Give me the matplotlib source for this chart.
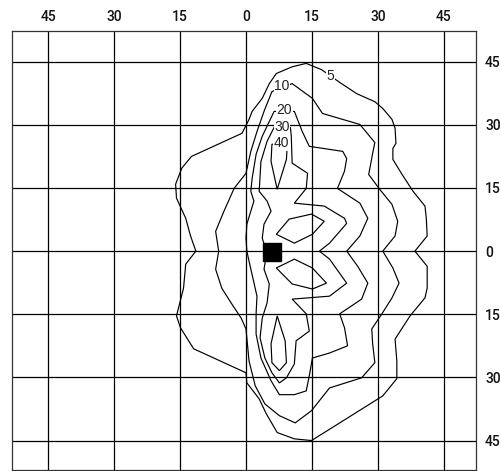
import matplotlib
matplotlib.use("Agg")
import matplotlib.pyplot as plt

plt.rcParams['font.family'] = ['Liberation Sans', 'DejaVu Sans']

# ---------------- data ----------------
grid_ticks = [-45, -30, -15, 0, 15, 30, 45]
grid_tick_labels = ["45", "30", "15", "0", "15", "30", "45"]

# isopter 5 (outermost)
iso5_x = [13.7, 17.2, 21.3, 25.2, 29.3, 31.1, 33.2, 33.9, 34.1, 33.4, 33.4, 35.5, 38.0, 40.7, 41.0,
          41.2, 38.4, 41.2, 41.2, 40.7, 37.3, 33.9, 34.3, 34.3, 31.1, 14.9, 11.0, 7.1, 4.6, 3.0,
          0.2, 0.0, -11.9, -14.9, -15.8, -14.2, -13.7, -11.4, -12.6, -13.7, -15.8, -16.0, -14.6,
          -12.4, -0.9, 0.7, 1.4, 3.7, 5.3, 6.9, 10.5]
iso5_y = [44.6, 43.1, 40.1, 37.4, 35.5, 33.9, 31.3, 29.2, 25.6, 24.4, 21.8, 18.2, 14.2, 10.7, 7.8,
          3.6, 0.0, -3.6, -8.8, -11.1, -15.4, -20.9, -26.1, -30.3, -34.4, -45.0, -44.6, -43.1, -38.6,
          -35.1, -31.3, -28.9, -23.2, -18.2, -15.4, -8.8, -3.1, 0.0, 3.6, 7.8, 12.6, 15.9, 19.7,
          22.5, 28.0, 31.3, 33.2, 36.3, 39.8, 42.2, 43.8]

# isopter 10
iso10_x = [10.5, 15.1, 17.4, 25.9, 29.3, 28.8, 27.9, 30.4, 33.2, 34.5, 33.9, 31.1, 33.4, 34.8, 33.2,
           30.9, 28.6, 28.8, 29.3, 26.3, 19.0, 14.9, 11.2, 7.6, 4.3, 2.1, 0.7, 0.0, -1.1, -3.2,
           -5.5, -6.9, -6.2, -6.9, -5.0, -2.7, 0.0, 1.1, 2.5, 4.1, 5.9]
iso10_y = [39.8, 36.3, 32.7, 30.1, 25.8, 23.2, 18.2, 14.7, 11.1, 7.1, 3.6, 0.0, -4.0, -7.6, -11.1,
           -14.9, -18.5, -22.0, -26.5, -30.1, -32.5, -37.9, -40.8, -39.1, -36.3, -32.0, -26.1, -18.5,
           -15.9, -12.6, -8.8, -4.3, 0.0, 4.7, 9.5, 14.9, 18.5, 23.7, 28.4, 33.2, 37.9]

# isopter 20
iso20_x = [11.0, 12.8, 14.4, 22.0, 22.9, 22.4, 20.8, 25.9, 27.7, 25.9, 22.9, 25.4, 27.7, 26.3, 21.3,
           22.4, 23.1, 19.0, 15.1, 14.4, 13.7, 11.0, 7.6, 5.7, 3.4, 2.3, 2.3, 2.5, 0.7, 0.2,
           0.0, 0.2, 1.8, 1.1, 1.4, 2.3, 3.7, 6.4]
iso20_y = [33.2, 28.4, 24.9, 23.7, 22.0, 19.0, 14.9, 11.4, 7.8, 3.6, 0.0, -3.6, -7.6, -11.4, -14.9,
           -18.2, -22.5, -24.2, -25.4, -29.6, -33.2, -34.1, -34.1, -30.8, -25.4, -19.7, -14.9, -10.7,
           -2.4, 0.0, 3.1, 6.4, 11.9, 14.2, 17.3, 23.0, 27.3, 33.2]

# isopter 30
iso30_x = [10.1, 10.3, 10.5, 14.0, 13.7, 11.0, 17.8, 22.4, 22.9, 19.0, 16.7, 19.0, 22.9, 19.0, 10.5,
           13.7, 14.4, 11.4, 11.0, 9.2, 7.6, 5.9, 4.3, 3.2, 3.7, 4.8, 5.3, 4.1, 4.6, 4.1,
           3.7, 4.1, 5.7, 4.8, 3.0, 3.4, 4.8, 6.4]
iso30_y = [29.4, 27.3, 20.9, 18.5, 14.9, 11.4, 10.7, 7.8, 6.6, 1.9, 0.0, -1.9, -7.6, -10.7, -11.4,
           -14.9, -19.0, -21.3, -26.8, -30.1, -31.3, -28.9, -25.4, -20.6, -15.9, -12.3, -7.8, -4.3,
           -1.2, 1.7, 3.1, 6.4, 9.5, 11.9, 14.2, 21.3, 26.1, 29.4]

# isopter 40 (upper and lower islands)
iso40a_x = [5.9, 5.7, 7.1, 9.2, 9.4]
iso40a_y = [25.4, 21.3, 14.7, 21.8, 25.4]
iso40b_x = [7.1, 5.7, 5.9, 7.6, 9.2, 8.9]
iso40b_y = [-15.4, -22.0, -26.5, -28.4, -26.5, -21.3]

# small loops beside fixation
loop_up_x = [6.9, 9.8, 14.9, 17.8, 15.1, 11.0]
loop_up_y = [4.0, 7.6, 8.8, 7.1, 4.0, 1.9]
loop_lo_x = [6.9, 11.0, 15.1, 18.3, 15.1, 10.5]
loop_lo_y = [-4.0, -1.9, -4.0, -7.6, -9.0, -7.8]

isopter_labels = ["5", "10", "20", "30", "40"]
label_x = [19.2, 8.2, 8.7, 8.2, 8.0]
label_y = [41.5, 39.3, 33.6, 29.6, 25.6]

fixation_x = [5.9]
fixation_y = [-0.2]

# ---------------- figure ----------------
fig = plt.figure(figsize=(5.02, 4.71), dpi=100)
ax = fig.add_axes([12 / 502, 1 / 471, 464 / 502, 439 / 471])
ax.set_xlim(-53.2, 52.3)
ax.set_ylim(-52.0, 52.3)

ax.set_xticks(grid_ticks)
ax.set_xticklabels(grid_tick_labels)
ax.set_yticks(grid_ticks)
ax.set_yticklabels(grid_tick_labels)
ax.tick_params(axis='x', top=True, labeltop=True, bottom=False, labelbottom=False,
               length=0, pad=5, labelsize=10, labelcolor='#111111')
ax.tick_params(axis='y', right=True, labelright=True, left=False, labelleft=False,
               length=0, pad=6.5, labelsize=10, labelcolor='#111111')
for lbl in ax.get_xticklabels() + ax.get_yticklabels():
    lbl.set_fontfamily(['Roboto', 'DejaVu Sans'])
    lbl.set_fontweight('medium')
for lbl in ax.get_yticklabels():
    lbl.set_horizontalalignment('left')
ax.grid(True, color='black', linewidth=0.9, zorder=1)
ax.set_axisbelow(True)
for s in ax.spines.values():
    s.set_color('#333333')
    s.set_linewidth(0.9)

for xs, ys in [(iso5_x, iso5_y), (iso10_x, iso10_y), (iso20_x, iso20_y), (iso30_x, iso30_y),
               (iso40a_x, iso40a_y), (iso40b_x, iso40b_y), (loop_up_x, loop_up_y),
               (loop_lo_x, loop_lo_y)]:
    ax.fill(xs, ys, facecolor='none', edgecolor='black', linewidth=0.85, zorder=3)

for t, lx, ly in zip(isopter_labels, label_x, label_y):
    ax.text(lx, ly, t, ha='center', va='center', fontsize=10, color='#222222', zorder=5,
            bbox=dict(facecolor='white', edgecolor='none', pad=0.5))

ax.plot(fixation_x, fixation_y, marker='s', markersize=13, color='black', linestyle='none', zorder=6)

fig.savefig('out.png', dpi=100)
